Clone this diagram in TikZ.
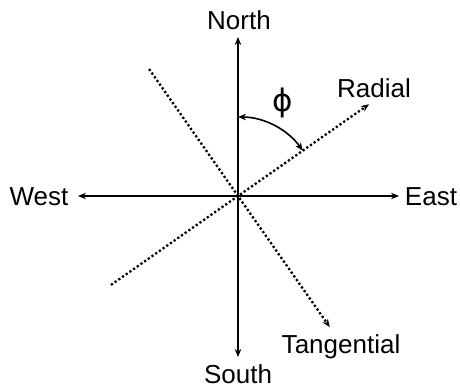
\documentclass[tikz,border=0pt]{standalone}
\usepackage{fontspec}
\setmainfont{Liberation Sans}
\newfontfamily\phifont{DejaVu Sans}
\usetikzlibrary{arrows.meta,calc}
\begin{document}
\begin{tikzpicture}[x=1bp,y=1bp,
  lbl/.style={font=\fontsize{26bp}{30bp}\selectfont, inner sep=0pt, anchor=base},
  axis/.style={line width=2bp, {Stealth[length=8bp,width=6.5bp]}-{Stealth[length=8bp,width=6.5bp]}},
  dots/.style={line width=2.3bp, dash pattern=on 2.2bp off 2.3bp, -{Stealth[length=8bp,width=6.5bp]}},
  anglearc/.style={line width=1.6bp, {Stealth[length=8bp,width=6.5bp]}-{Stealth[length=8bp,width=6.5bp]}}]
\useasboundingbox (0,0) rectangle (460,387);
\coordinate (O) at (238,191);
\coordinate (Ntip) at (238,350);
\coordinate (Stip) at (238,30);
\coordinate (Wtip) at (78,191);
\coordinate (Etip) at (399,191);
\coordinate (Rtip) at ($(O)+(35:160)$);
\coordinate (Rend) at ($(O)+(215:155)$);
\coordinate (Ttip) at ($(O)+(-55:160)$);
\coordinate (Tend) at ($(O)+(125:155)$);
\coordinate (A1) at ($(O)+(90:79)$);
% labels
\node[lbl] (north) at (239,358) {North};
\node[lbl] (south) at (238,4) {South};
\node[lbl] (west) at (39,182) {West};
\node[lbl] (east) at (431,182) {East};
\node[lbl] (radial) at (374,290) {Radial};
\node[lbl] (tang) at (341,34) {Tangential};
\node[lbl, font=\phifont\fontsize{31bp}{34bp}\selectfont] (phi) at (283,276) {ϕ};
% axes
\draw[axis] (Stip) -- (Ntip);
\draw[axis] (Wtip) -- (Etip);
% dotted directions
\draw[dots] (Rend) -- (Rtip);
\draw[dots] (Tend) -- (Ttip);
% angle
\draw[anglearc] (A1) arc[start angle=90, end angle=35, radius=79];
\end{tikzpicture}
\end{document}
